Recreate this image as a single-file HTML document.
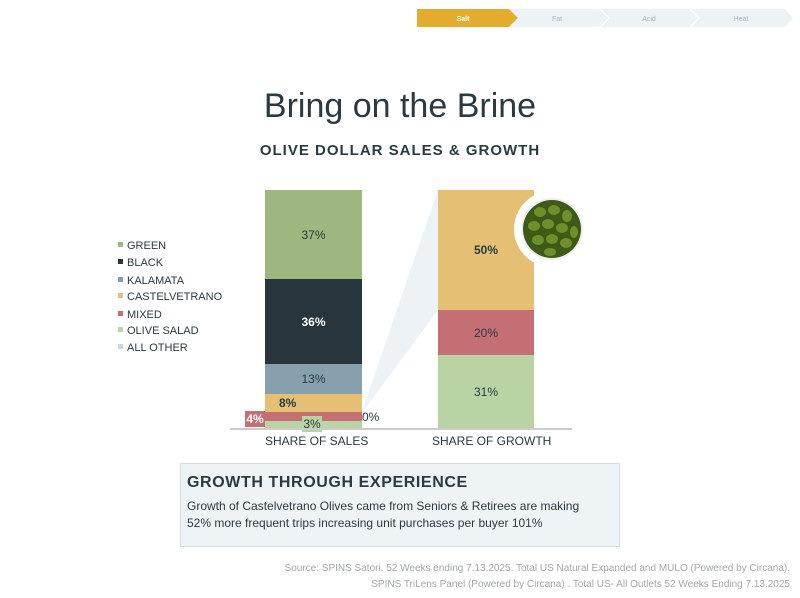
<!DOCTYPE html>
<html><head><meta charset="utf-8"><style>
body{margin:0;width:800px;height:598px;background:#fff;position:relative;overflow:hidden;font-family:"Liberation Sans",sans-serif;color:#2b3a42}
.a{position:absolute}
.seg{position:absolute;display:flex;align-items:center;justify-content:center;font-size:12px;color:#2b3a42}
.lg{position:absolute;left:118px;font-size:11px;color:#2b3a42}
.lg i{display:inline-block;width:5px;height:5px;margin-right:4px;vertical-align:2px}
</style></head><body>
<svg class="a" style="left:417px;top:9px" width="376" height="18">
<polygon points="0,0 92,0 101,9 92,18 0,18" fill="#e3ac2c"/>
<polygon points="92,0 182,0 191,9 182,18 92,18 101,9" fill="#edf2f5"/>
<polygon points="184,0 272,0 281,9 272,18 184,18 193,9" fill="#edf2f5"/>
<polygon points="274,0 368,0 376,9 368,18 274,18 283,9" fill="#edf2f5"/>
<text x="46" y="12" font-size="7" fill="#fff" text-anchor="middle" font-family="Liberation Sans" font-weight="bold">Salt</text>
<text x="140" y="12" font-size="7" fill="#aab4ba" text-anchor="middle" font-family="Liberation Sans">Fat</text>
<text x="232" y="12" font-size="7" fill="#aab4ba" text-anchor="middle" font-family="Liberation Sans">Acid</text>
<text x="324" y="12" font-size="7" fill="#aab4ba" text-anchor="middle" font-family="Liberation Sans">Heat</text>
</svg>
<div class="a" style="left:0;width:800px;top:87px;text-align:center;font-size:34px;color:#2b3a42">Bring on the Brine</div>
<div class="a" style="left:0;width:800px;top:142px;text-align:center;font-size:15px;font-weight:bold;letter-spacing:1px">OLIVE DOLLAR SALES &amp; GROWTH</div>

<div class="lg" style="top:240px"><i style="background:#9db77e"></i>GREEN</div>
<div class="lg" style="top:257px"><i style="background:#28353d"></i>BLACK</div>
<div class="lg" style="top:275px"><i style="background:#87a0ad"></i>KALAMATA</div>
<div class="lg" style="top:291px"><i style="background:#e5c074"></i>CASTELVETRANO</div>
<div class="lg" style="top:309px"><i style="background:#c46f73"></i>MIXED</div>
<div class="lg" style="top:325px"><i style="background:#bad3a4"></i>OLIVE SALAD</div>
<div class="lg" style="top:342px"><i style="background:#c8d8e4"></i>ALL OTHER</div>

<svg class="a" style="left:0;top:0" width="800" height="598"><polygon points="362,411 438,190 438,310 362,413" fill="#edf2f6"/></svg>

<div class="seg" style="left:265px;width:97px;top:190px;height:89px;background:#9db77e">37%</div>
<div class="seg" style="left:265px;width:97px;top:279px;height:85px;background:#28353d;color:#fff;font-weight:bold">36%</div>
<div class="seg" style="left:265px;width:97px;top:364px;height:30px;background:#87a0ad">13%</div>
<div class="seg" style="left:265px;width:97px;top:394px;height:18px;background:#e5c074;font-weight:bold;justify-content:flex-start;padding-left:14px;box-sizing:border-box">8%</div>
<div class="seg" style="left:265px;width:97px;top:412px;height:9px;background:#c46f73"></div>
<div class="seg" style="left:265px;width:97px;top:421px;height:7px;background:#bad3a4"></div>
<div class="seg" style="left:245px;width:20px;top:411px;height:16px;background:#c46f73;color:#fff;font-weight:bold">4%</div>
<div class="seg" style="left:302px;width:20px;top:416px;height:16px;background:#bad3a4">3%</div>
<div class="a" style="left:362px;top:410px;font-size:12px">0%</div>

<div class="seg" style="left:438px;width:96px;top:190px;height:120px;background:#e5c074;font-weight:bold">50%</div>
<div class="seg" style="left:438px;width:96px;top:310px;height:45px;background:#c46f73">20%</div>
<div class="seg" style="left:438px;width:96px;top:355px;height:73px;background:#bad3a4">31%</div>
<div class="a" style="left:230px;top:428px;width:342px;height:2px;background:#ccc"></div>
<div class="a" style="left:265px;top:434px;font-size:12px">SHARE OF SALES</div>
<div class="a" style="left:432px;top:434px;font-size:12px">SHARE OF GROWTH</div>

<svg class="a" style="left:512px;top:190px" width="80" height="80">
<circle cx="40" cy="39" r="38" fill="#fff"/>
<circle cx="40" cy="39" r="31" fill="#eee"/>
<circle cx="40" cy="39" r="29" fill="#3e5a16"/>
<g fill="#6f8f2a">
<ellipse cx="28" cy="22" rx="6" ry="5"/><ellipse cx="42" cy="20" rx="6" ry="5"/><ellipse cx="55" cy="26" rx="5" ry="6"/>
<ellipse cx="22" cy="36" rx="6" ry="5"/><ellipse cx="36" cy="34" rx="6" ry="5"/><ellipse cx="50" cy="38" rx="6" ry="5"/><ellipse cx="62" cy="42" rx="4" ry="6"/>
<ellipse cx="26" cy="50" rx="6" ry="5"/><ellipse cx="40" cy="49" rx="6" ry="5"/><ellipse cx="54" cy="53" rx="6" ry="5"/><ellipse cx="38" cy="62" rx="6" ry="4"/>
</g></svg>

<div class="a" style="left:180px;top:463px;width:438px;height:82px;background:#eef3f6;border:1px solid #d3dde3"></div>
<div class="a" style="left:187px;top:474px;font-size:16px;font-weight:bold;letter-spacing:0.6px">GROWTH THROUGH EXPERIENCE</div>
<div class="a" style="left:187px;top:498px;font-size:12px;line-height:17px">Growth of Castelvetrano Olives came from Seniors &amp; Retirees are making<br>52% more frequent trips increasing unit purchases per buyer 101%</div>

<div class="a" style="right:10px;top:561px;font-size:10px;color:#a0a8ad;text-align:right;line-height:16px">Source: SPINS Satori. 52 Weeks ending 7.13.2025. Total US Natural Expanded and MULO (Powered by Circana).<br>SPINS TriLens Panel (Powered by Circana) . Total US- All Outlets 52 Weeks Ending 7.13.2025</div>
</body></html>
